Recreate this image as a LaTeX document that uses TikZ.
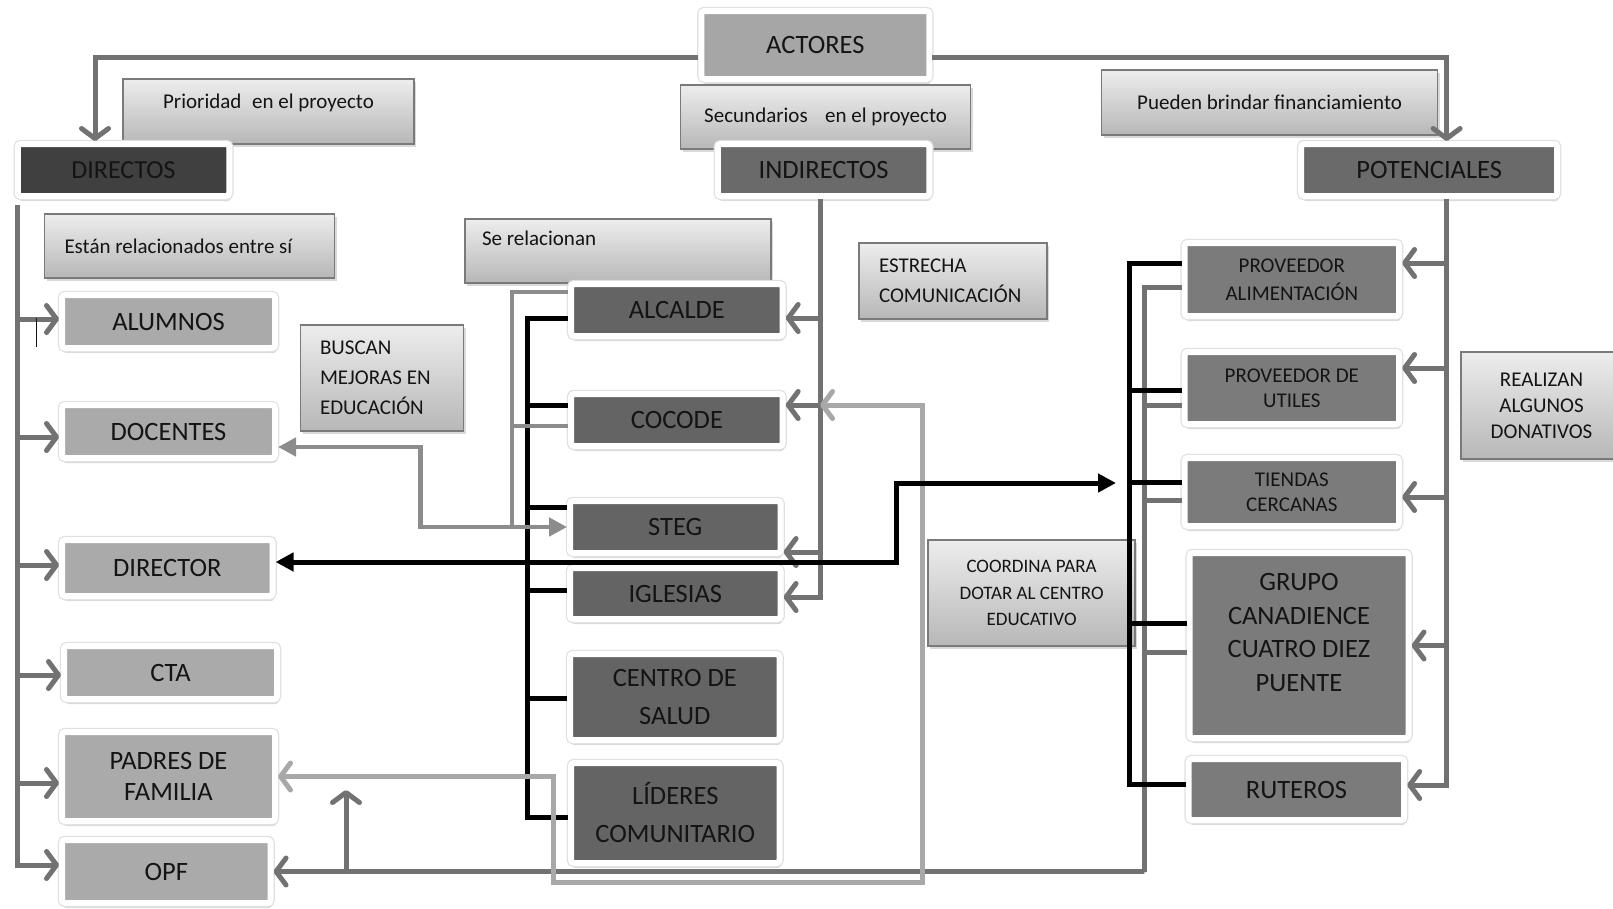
\documentclass[tikz,border=0pt]{standalone}
\usepackage{fontspec}
\setmainfont{Carlito}
\usetikzlibrary{arrows.meta,shadows,positioning}

\definecolor{txt}{HTML}{141414}
\definecolor{headfill}{HTML}{A6A6A6}
\definecolor{dirfill}{HTML}{404040}
\definecolor{indfill}{HTML}{6A6A6A}
\definecolor{leftfill}{HTML}{AAAAAA}
\definecolor{midfill}{HTML}{646464}
\definecolor{rightfill}{HTML}{7B7B7B}
\definecolor{linedark}{HTML}{727272}
\definecolor{linemid}{HTML}{8C8C8C}
\definecolor{linelight}{HTML}{A8A8A8}
\definecolor{notetop}{HTML}{EDEDED}
\definecolor{notebot}{HTML}{B7B7B7}
\definecolor{noteedge}{HTML}{7A7A7A}

\newcommand{\bigtxt}{\fontsize{26.5}{33}\selectfont}
\newcommand{\smtxt}{\fontsize{21}{29}\selectfont}

\tikzset{
  box/.style={draw=white, line width=6pt, rounded corners=3pt, inner sep=0pt,
    align=center, text=txt, font=\bigtxt,
    drop shadow={shadow xshift=1.5pt, shadow yshift=-5pt, opacity=0.3},
    preaction={draw=black!12, line width=8.5pt}},
  headbox/.style={box, fill=headfill},
  dirbox/.style={box, fill=dirfill},
  indbox/.style={box, fill=indfill},
  leftbox/.style={box, fill=leftfill},
  midbox/.style={box, fill=midfill},
  rightbox/.style={box, fill=rightfill},
  note/.style={draw=noteedge, line width=1.5pt, top color=notetop, bottom color=notebot,
    inner sep=0pt, align=center, text=txt, font=\smtxt,
    drop shadow={shadow xshift=2pt, shadow yshift=-3pt, opacity=0.3}},
  sz/.style 2 args={minimum width=#1, minimum height=#2},
  conn/.style={draw=linedark, line width=5pt},
  blk/.style={draw=black, line width=5pt},
  mid/.style={draw=linemid, line width=4.5pt},
  lite/.style={draw=linelight, line width=5pt},
  chev/.tip={Straight Barb[length=10pt, width=27pt, round]},
  tri/.tip={Triangle[length=18pt, width=18pt]},
}

\begin{document}
\begin{tikzpicture}[x=1pt, y=-1pt]
\useasboundingbox (0,0) rectangle (1613,908);

% notas
\node[note, sz={291pt}{65pt}, text height=14pt, text depth=21pt] (prioridad) at (268.5,111.5) {Prioridad\hspace{6pt} en el proyecto};
\node[note, sz={290pt}{64pt}] (secundarios) at (825.6,117) {Secundarios\hspace{17.5pt}en el proyecto};
\node[note, sz={336pt}{65pt}] (pueden) at (1269.6,102.5) {Pueden brindar financiamiento};
\node[note, sz={290pt}{64pt}, text width=250pt, align=flush left] (estan) at (189.5,246) {Están relacionados entre sí};
\node[note, sz={306pt}{64pt}, text width=272pt, align=flush left, text height=14pt, text depth=26pt] (serel) at (618,251) {Se relacionan};
\node[note, sz={163pt}{106pt}, text width=124pt, align=flush left, font=\fontsize{21}{30}\selectfont] (buscan) at (382,378) {BUSCAN\\MEJORAS EN\\EDUCACIÓN};
\node[note, sz={188pt}{76pt}, text width=148pt, align=flush left, font=\fontsize{21}{30}\selectfont] (estrecha) at (953,281) {ESTRECHA\\COMUNICACIÓN};
\node[note, sz={207pt}{106pt}, font=\fontsize{19}{26.5}\selectfont] (coordina) at (1031.6,593) {COORDINA PARA\\DOTAR AL CENTRO\\EDUCATIVO};
\node[note, sz={161pt}{107pt}, font=\fontsize{21}{26}\selectfont] (realizan) at (1541.5,405.5) {REALIZAN\\ALGUNOS\\DONATIVOS};

% cabeceras
\node[headbox, sz={228pt}{68pt}] (actores) at (815.4,45) {ACTORES};
\node[dirbox, sz={211.5pt}{52pt}, font=\fontsize{26}{30}\selectfont] (directos) at (123.5,170) {DIRECTOS};
\node[indbox, sz={211.5pt}{52pt}] (indirectos) at (823.6,170) {INDIRECTOS};
\node[indbox, sz={256pt}{52pt}] (potenciales) at (1429.2,170) {POTENCIALES};

% directos
\node[leftbox, sz={213pt}{53pt}] (alumnos) at (168.5,321.5) {ALUMNOS};
\node[leftbox, sz={213pt}{53pt}] (docentes) at (168.5,431.5) {DOCENTES};
\node[leftbox, sz={210.5pt}{56pt}] (director) at (167.3,568) {DIRECTOR};
\node[leftbox, sz={213pt}{53pt}] (cta) at (170.5,672.5) {CTA};
\node[leftbox, sz={213pt}{89pt}, font=\fontsize{26.5}{31}\selectfont] (padres) at (168.5,776.5) {PADRES DE\\FAMILIA};
\node[leftbox, sz={208.5pt}{63pt}] (opf) at (166.3,871.5) {OPF};

% indirectos
\node[midbox, sz={211.5pt}{52pt}] (alcalde) at (676.9,310) {ALCALDE};
\node[midbox, sz={211.5pt}{52pt}] (cocode) at (676.9,420) {COCODE};
\node[midbox, sz={210.5pt}{52pt}] (steg) at (675.3,527) {STEG};
\node[midbox, sz={210.5pt}{51pt}] (iglesias) at (675.3,593.5) {IGLESIAS};
\node[midbox, sz={209.5pt}{86pt}, font=\fontsize{26.5}{38}\selectfont] (salud) at (674.8,697) {CENTRO DE\\SALUD};
\node[midbox, sz={208.5pt}{100pt}, font=\fontsize{26.5}{38}\selectfont] (lideres) at (675.3,813) {LÍDERES\\COMUNITARIO};

% potenciales
\node[rightbox, sz={214.5pt}{73pt}, font=\fontsize{21}{28}\selectfont] (alimentacion) at (1291.8,279.5) {PROVEEDOR\\ALIMENTACIÓN};
\node[rightbox, sz={214.5pt}{72pt}, font=\fontsize{21}{25}\selectfont] (utiles) at (1291.8,388) {PROVEEDOR DE\\UTILES};
\node[rightbox, sz={214.5pt}{68pt}, font=\fontsize{21}{25}\selectfont] (tiendas) at (1291.8,492) {TIENDAS\\CERCANAS};
\node[rightbox, sz={219pt}{185pt}, font=\fontsize{26.5}{33.5}\selectfont] (grupo) at (1299,645.5) {GRUPO\\CANADIENCE\\CUATRO DIEZ\\PUENTE\\[-7pt]\mbox{}};
\node[rightbox, sz={215.5pt}{61pt}] (ruteros) at (1296.4,789.5) {RUTEROS};

% puntos de paso
\coordinate (dbus) at (17.6,205);
\coordinate (ibus) at ([xshift=-3.6pt]indirectos.south);
\coordinate (pbus) at ([xshift=17.4pt]potenciales.south);
\coordinate (mbus) at (527,560);
\coordinate (gbus) at (512,528);
\coordinate (rbus) at (1129,500);
\coordinate (sbus) at (1144,872);
\coordinate (gbend) at (420.5,490);
\coordinate (bkink) at (896,520);
\coordinate (dotar) at (1116,483);
\coordinate (cocodein) at (820,405);
\coordinate (lgcorner) at (922,882);
\coordinate (lglead) at (553,776.5);
\coordinate (upfoot) at (346,872);
\coordinate (uphead) at (346,790);

% actores
\draw[conn, -chev] ([yshift=-12pt]actores.west) -| ([xshift=-28.5pt]directos.north);
\draw[conn, -chev] ([yshift=-12pt]actores.east) -| ([xshift=17.4pt]potenciales.north);

% directos
\foreach \n/\s in {alumnos/2.5, docentes/-5.5, director/3, cta/-2.5, padres/-6.5}{
  \path ([yshift=\s pt]\n.west) coordinate (\n-in);
  \draw[conn, -chev] (dbus |- \n-in) -- (\n-in);
}
\path ([yshift=6.5pt]opf.west) coordinate (opf-in);
\draw[conn, -chev] (dbus) |- (opf-in);
\draw[line width=1pt, txt] (36,318) -- (36,347);

% indirectos
\foreach \n/\s in {alcalde/-8, cocode/15, steg/-25}{
  \path ([yshift=\s pt]\n.east) coordinate (\n-ind);
  \draw[conn, -chev] (ibus |- \n-ind) -- (\n-ind);
}
\path ([yshift=-3.5pt]iglesias.east) coordinate (iglesias-ind);
\draw[conn, -chev] (ibus) |- (iglesias-ind);

\foreach \n/\s in {alcalde/-8, cocode/15, steg/20, iglesias/3.5, salud/-1, lideres/-4}
  \path ([yshift=\s pt]\n.west) coordinate (\n-k);
\draw[blk] (alcalde-k) -| (mbus) |- (lideres-k);
\foreach \n in {cocode, steg, iglesias, salud}
  \draw[blk] (mbus |- \n-k) -- (\n-k);

\path ([yshift=18pt]alcalde.west) coordinate (alcalde-g);
\path ([yshift=-6pt]cocode.west) coordinate (cocode-g);
\draw[mid] (alcalde-g) -| (gbus);
\draw[mid] (cocode-g) -- (gbus |- cocode-g);
\draw[mid, tri-tri] ([yshift=-15.5pt]docentes.east) -| (gbend) |- (steg.west);

% potenciales
\foreach \n/\s in {alimentacion/16.5, utiles/20, tiendas/-5, grupo/0}{
  \path ([yshift=\s pt]\n.east) coordinate (\n-pot);
  \draw[conn, -chev] (pbus |- \n-pot) -- (\n-pot);
}
\path ([yshift=4.5pt]ruteros.east) coordinate (ruteros-pot);
\draw[conn, -chev] (pbus) |- (ruteros-pot);

\foreach \n/\s in {alimentacion/-7.5, utiles/-17, tiendas/-8, grupo/-6.5}
  \path ([yshift=\s pt]\n.west) coordinate (\n-s);
\draw[conn, -chev] (alimentacion-s) -| (sbus) |- (opf.east);
\foreach \n in {utiles, tiendas, grupo}
  \draw[conn] (sbus |- \n-s) -- (\n-s);
\draw[conn, -chev] (upfoot) -- (uphead);

\foreach \n/\s in {alimentacion/16.5, utiles/-2, tiendas/10, grupo/22.5, ruteros/5.5}
  \path ([yshift=\s pt]\n.west) coordinate (\n-k);
\draw[blk] (alimentacion-k) -| (rbus) |- (ruteros-k);
\foreach \n in {utiles, tiendas, grupo}
  \draw[blk] (rbus |- \n-k) -- (\n-k);

% cruces
\draw[lite, chev-chev] (cocodein) -| (lgcorner) -| (lglead) -- (padres.east);
\draw[blk, tri-tri] ([yshift=6pt]director.east) -| (bkink) |- (dotar);
\end{tikzpicture}
\end{document}
